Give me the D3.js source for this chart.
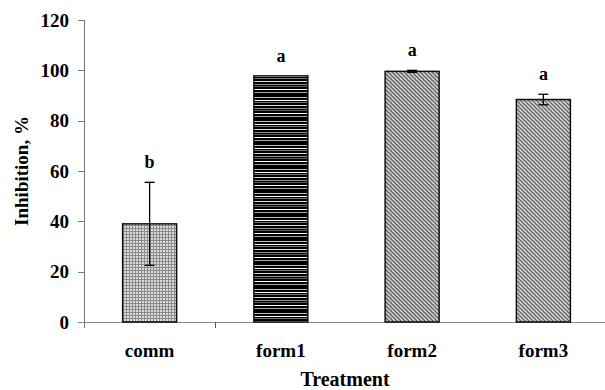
<!DOCTYPE html>
<html>
<head>
<meta charset="utf-8">
<script src="https://cdn.jsdelivr.net/npm/d3@7"></script>
<style>
  body { margin: 0; background: #fff; }
  svg { display: block; }
  text { font-family: "Liberation Serif", "Times New Roman", serif; font-weight: bold; }
</style>
</head>
<body>
<div id="chart"></div>
<script>
const categories = ['comm', 'form1', 'form2', 'form3'];
const means = [39, 97.8, 99.6, 88.4];
const errors = [16.5, 0, 0.4, 2.1];
const letters = ['b', 'a', 'a', 'a'];
const yTicks = [0, 20, 40, 60, 80, 100, 120];
const patterns = ['pComm', 'pForm1', 'pForm2', 'pForm3'];

const width = 605;
const height = 390;
const margin = { top: 20, right: 0, bottom: 68, left: 84 };

const svg = d3.select('#chart')
  .append('svg')
  .attr('width', width)
  .attr('height', height);

const defs = svg.append('defs');

// comm: fine gray grid
const pc = defs.append('pattern')
  .attr('id', 'pComm').attr('patternUnits', 'userSpaceOnUse')
  .attr('width', 3).attr('height', 3);
pc.append('rect').attr('width', 3).attr('height', 3).attr('fill', '#dcdcdc');
pc.append('rect').attr('width', 3).attr('height', 1).attr('fill', '#8a8a8a');
pc.append('rect').attr('width', 1).attr('height', 3).attr('fill', '#8a8a8a');

// form1: black with irregular light horizontal lines
const p1 = defs.append('pattern')
  .attr('id', 'pForm1').attr('patternUnits', 'userSpaceOnUse')
  .attr('width', 8).attr('height', 24);
p1.append('rect').attr('width', 8).attr('height', 24).attr('fill', '#000');
[[1, '#bbb'], [4, '#fff'], [6, '#777'], [9, '#ddd'], [12, '#999'], [14, '#666'], [17, '#fff'], [20, '#aaa']].forEach(([yy, c]) => {
  p1.append('rect').attr('y', yy).attr('width', 8).attr('height', 1).attr('fill', c);
});

// form2 / form3: speckled gray texture
function speckle(id, bg, dark, light) {
  const p = defs.append('pattern')
    .attr('id', id).attr('patternUnits', 'userSpaceOnUse')
    .attr('width', 4).attr('height', 4);
  p.append('rect').attr('width', 4).attr('height', 4).attr('fill', bg);
  [[0, 0], [1, 1], [2, 2], [3, 3]].forEach(([a, b]) => {
    p.append('rect').attr('x', a).attr('y', b).attr('width', 1).attr('height', 1).attr('fill', dark);
  });
  [[2, 0], [0, 2], [3, 1], [1, 3]].forEach(([a, b], i) => {
    p.append('rect').attr('x', a).attr('y', b).attr('width', 1).attr('height', 1)
      .attr('fill', i % 2 ? light : '#c8c8c8');
  });
}
speckle('pForm2', '#a0a0a0', '#5a5a5a', '#e6e6e6');
speckle('pForm3', '#a8a8a8', '#606060', '#e0e0e0');

const x = d3.scaleBand()
  .domain(categories)
  .range([margin.left, 609])
  .paddingInner(0)
  .paddingOuter(0);

const y = d3.scaleLinear()
  .domain([0, 120])
  .range([height - margin.bottom, margin.top]);

const barW = 54;

// y axis
svg.append('line')
  .attr('x1', margin.left + 0.5).attr('x2', margin.left + 0.5)
  .attr('y1', y(120)).attr('y2', y(0) + 6)
  .attr('stroke', '#777');

svg.append('g')
  .selectAll('line')
  .data(yTicks)
  .join('line')
  .attr('x1', margin.left - 6).attr('x2', margin.left)
  .attr('y1', d => Math.round(y(d)) + 0.5)
  .attr('y2', d => Math.round(y(d)) + 0.5)
  .attr('stroke', '#777');

svg.append('g')
  .selectAll('text')
  .data(yTicks)
  .join('text')
  .attr('x', margin.left - 15)
  .attr('y', d => y(d))
  .attr('dy', '0.35em')
  .attr('text-anchor', 'end')
  .attr('font-size', 19)
  .text(d => d);

// x axis
svg.append('line')
  .attr('x1', margin.left - 6).attr('x2', width)
  .attr('y1', Math.round(y(0)) + 0.5).attr('y2', Math.round(y(0)) + 0.5)
  .attr('stroke', '#888');

svg.append('line')
  .attr('x1', Math.round(x('form1')) + 0.5).attr('x2', Math.round(x('form1')) + 0.5)
  .attr('y1', y(0)).attr('y2', y(0) + 6)
  .attr('stroke', '#555');

svg.append('g')
  .selectAll('text')
  .data(categories)
  .join('text')
  .attr('x', d => x(d) + x.bandwidth() / 2)
  .attr('y', 357)
  .attr('text-anchor', 'middle')
  .attr('font-size', 19)
  .text(d => d);

// bars
const rows = categories.map((c, i) => ({ c, m: means[i], e: errors[i], l: letters[i], p: patterns[i] }));

svg.append('g')
  .selectAll('rect')
  .data(rows)
  .join('rect')
  .attr('x', d => x(d.c) + x.bandwidth() / 2 - barW / 2)
  .attr('y', d => y(d.m))
  .attr('width', barW)
  .attr('height', d => y(0) - y(d.m))
  .attr('fill', d => `url(#${d.p})`)
  .attr('stroke', '#111')
  .attr('stroke-width', 1.5);

// error bars
const eb = svg.append('g').attr('stroke', '#000').attr('stroke-width', 1.3);
rows.filter(d => d.e > 0).forEach(d => {
  const cx = x(d.c) + x.bandwidth() / 2;
  eb.append('line').attr('x1', cx).attr('x2', cx).attr('y1', y(d.m + d.e)).attr('y2', y(d.m - d.e));
  eb.append('line').attr('x1', cx - 5).attr('x2', cx + 5).attr('y1', y(d.m + d.e)).attr('y2', y(d.m + d.e));
  eb.append('line').attr('x1', cx - 5).attr('x2', cx + 5).attr('y1', y(d.m - d.e)).attr('y2', y(d.m - d.e));
});

// significance letters
svg.append('g')
  .selectAll('text')
  .data(rows)
  .join('text')
  .attr('x', d => x(d.c) + x.bandwidth() / 2)
  .attr('y', d => y(d.m + d.e) - 14)
  .attr('text-anchor', 'middle')
  .attr('font-size', 18)
  .text(d => d.l);

// axis titles
svg.append('text')
  .attr('transform', `translate(28, ${(y(0) + y(120)) / 2}) rotate(-90)`)
  .attr('text-anchor', 'middle')
  .attr('font-size', 19)
  .text('Inhibition, %');

svg.append('text')
  .attr('x', 345)
  .attr('y', 386)
  .attr('text-anchor', 'middle')
  .attr('font-size', 20)
  .text('Treatment');
</script>
</body>
</html>
